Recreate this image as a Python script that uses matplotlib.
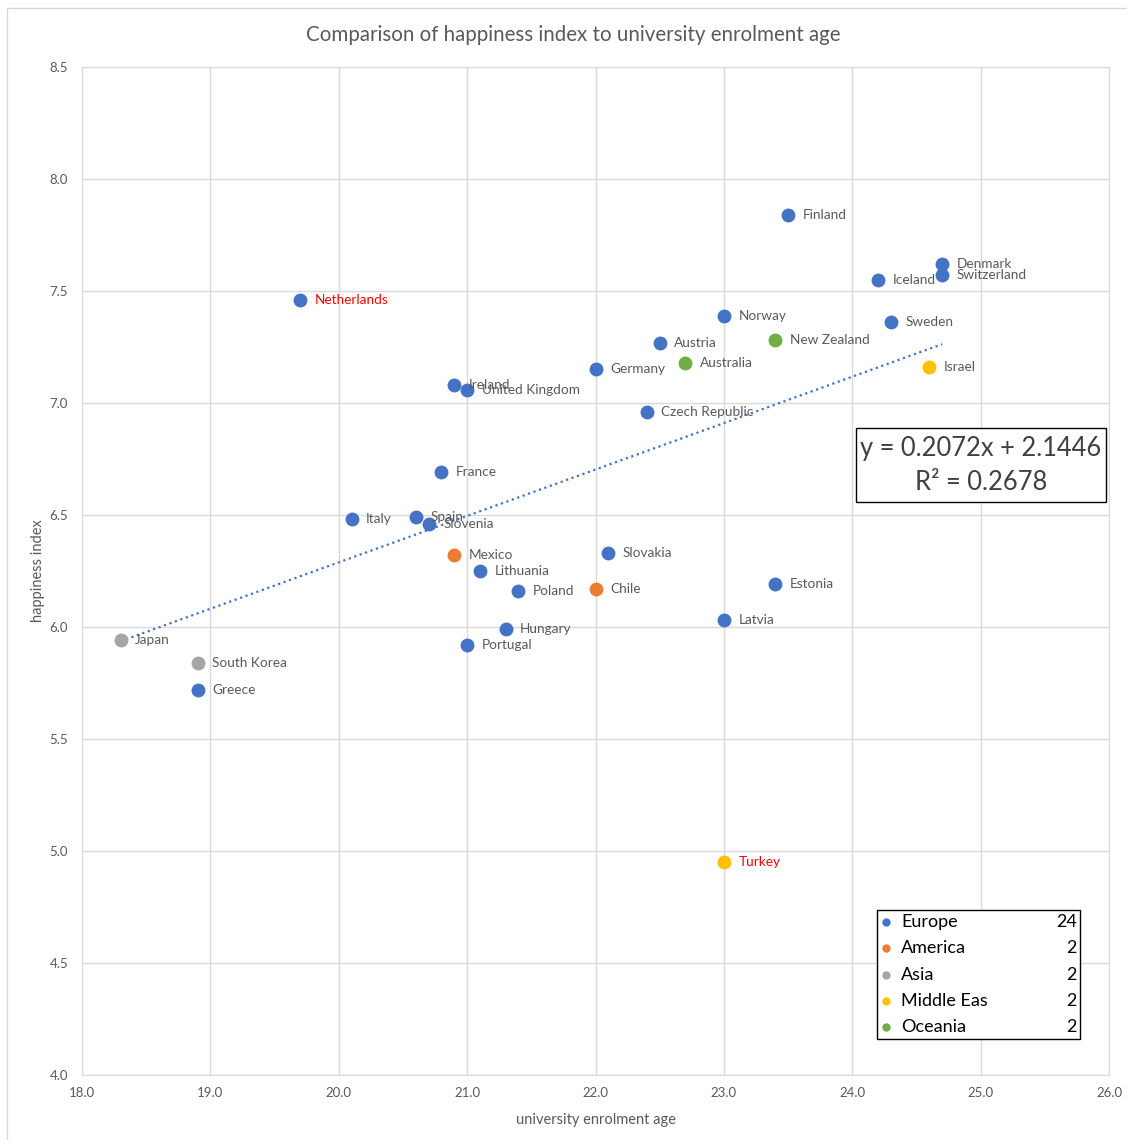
import matplotlib.pyplot as plt
from matplotlib.patches import Rectangle

plt.rcParams['font.family'] = ['Lato', 'DejaVu Sans']

countries = ["Netherlands", "Finland", "Denmark", "Switzerland", "Iceland", "Norway",
             "Sweden", "Austria", "Germany", "Ireland", "United Kingdom", "Czech Republic",
             "France", "Italy", "Spain", "Slovenia", "Slovakia", "Lithuania", "Poland",
             "Estonia", "Latvia", "Hungary", "Portugal", "Greece",
             "Mexico", "Chile",
             "Japan", "South Korea",
             "Israel", "Turkey",
             "Australia", "New Zealand"]
enrol_age = [19.7, 23.5, 24.7, 24.7, 24.2, 23.0,
             24.3, 22.5, 22.0, 20.9, 21.0, 22.4,
             20.8, 20.1, 20.6, 20.7, 22.1, 21.1, 21.4,
             23.4, 23.0, 21.3, 21.0, 18.9,
             20.9, 22.0,
             18.3, 18.9,
             24.6, 23.0,
             22.7, 23.4]
happiness = [7.46, 7.84, 7.62, 7.57, 7.55, 7.39,
             7.36, 7.27, 7.15, 7.08, 7.06, 6.96,
             6.69, 6.48, 6.49, 6.46, 6.33, 6.25, 6.16,
             6.19, 6.03, 5.99, 5.92, 5.72,
             6.32, 6.17,
             5.94, 5.84,
             7.16, 4.95,
             7.18, 7.28]
region = ["Europe"] * 24 + ["America"] * 2 + ["Asia"] * 2 + ["Middle East"] * 2 + ["Oceania"] * 2

region_names = ["Europe", "America", "Asia", "Middle East", "Oceania"]
legend_labels = ["Europe", "America", "Asia", "Middle Eas", "Oceania"]
region_counts = [24, 2, 2, 2, 2]
region_colors = ["#4472C4", "#ED7D31", "#A5A5A5", "#FFC000", "#70AD47"]

slope, intercept = 0.2072, 2.1446
r_squared = 0.2678

xticks = [18.0, 19.0, 20.0, 21.0, 22.0, 23.0, 24.0, 25.0, 26.0]
yticks = [4.0, 4.5, 5.0, 5.5, 6.0, 6.5, 7.0, 7.5, 8.0, 8.5]

red_labels = {"Netherlands", "Turkey"}
grey = "#595959"
grid_c = "#D9D9D9"

fig = plt.figure(figsize=(11.27, 11.40), dpi=100)
ax = fig.add_axes([0.07276, 0.05702, 0.91127, 0.88421])

# chart area border
fig.patches.append(Rectangle((7 / 1127, -0.05), 1.2, (1140 - 8) / 1140 + 0.05,
                             transform=fig.transFigure, fill=False,
                             edgecolor=grid_c, lw=1))

ax.set_xlim(18, 26)
ax.set_ylim(4, 8.5)
ax.set_xticks(xticks)
ax.set_yticks(yticks)
ax.set_xticklabels([f"{v:.1f}" for v in xticks])
ax.set_yticklabels([f"{v:.1f}" for v in yticks])
ax.grid(True, color=grid_c, lw=1)
ax.set_axisbelow(True)
for s in ax.spines.values():
    s.set_color(grid_c)
ax.tick_params(length=0, colors=grey, labelsize=9.5)
ax.tick_params(axis='x', pad=8.5)
ax.tick_params(axis='y', pad=10)

# trend line
x0, x1 = min(enrol_age), max(enrol_age)
ax.plot([x0, x1], [slope * x0 + intercept, slope * x1 + intercept],
        color="#4472C4", lw=1.6, ls=(0, (1, 1.6)), zorder=1)

for name, col in zip(region_names, region_colors):
    xs = [a for a, r in zip(enrol_age, region) if r == name]
    ys = [h for h, r in zip(happiness, region) if r == name]
    ax.scatter(xs, ys, s=100, color=col, zorder=3, linewidths=0)

for c, a, h in zip(countries, enrol_age, happiness):
    ax.annotate(c, (a, h), xytext=(10.5, 0), textcoords="offset points",
                va="center", ha="left", fontsize=9.8,
                color="red" if c in red_labels else grey, zorder=4)

# trendline equation box
ax.add_patch(Rectangle((0.7537, 0.5685), 0.2434, 0.0734, transform=ax.transAxes,
                       fc="white", ec="black", lw=1, zorder=5))
ax.text(0.8754, 0.6042, f"y = {slope}x + {intercept}\nR² = {r_squared}",
        transform=ax.transAxes, ha="center", va="center", multialignment="center",
        fontsize=18.4, color="#404040", linespacing=1.45, zorder=6)

# legend box with counts
ax.add_patch(Rectangle((0.7741, 0.0357), 0.1977, 0.128, transform=ax.transAxes,
                       fc="white", ec="black", lw=1, zorder=5))
row_y = [0.1518, 0.1260, 0.0992, 0.0734, 0.0476]
for ry, lab, cnt, col in zip(row_y, legend_labels, region_counts, region_colors):
    ax.plot([0.7829], [ry], marker="o", ms=5, color=col, transform=ax.transAxes,
            zorder=6, clip_on=False)
    ax.text(0.7975, ry, lab, transform=ax.transAxes, va="center", ha="left",
            fontsize=13, color="black", zorder=6)
    ax.text(0.9688, ry, str(cnt), transform=ax.transAxes, va="center", ha="right",
            fontsize=13, color="black", zorder=6)

fig.text(573 / 1127, 1 - 35 / 1140,
         "Comparison of happiness index to university enrolment age",
         fontsize=14.8, color=grey, ha="center", va="center")
ax.set_xlabel("university enrolment age", fontsize=10.5, color=grey, labelpad=10)
ax.set_ylabel("happiness index", fontsize=10.5, color=grey, labelpad=3)

fig.savefig("out.png", dpi=100)
